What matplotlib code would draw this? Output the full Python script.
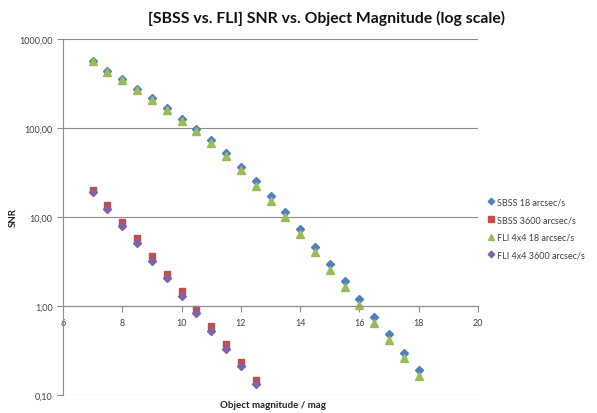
import matplotlib.pyplot as plt
import numpy as np
from matplotlib.ticker import FixedLocator, FuncFormatter, NullLocator

plt.rcParams['font.family'] = ['Lato', 'DejaVu Sans']

# Data
mag_long = [7, 7.5, 8, 8.5, 9, 9.5, 10, 10.5, 11, 11.5, 12, 12.5,
            13, 13.5, 14, 14.5, 15, 15.5, 16, 16.5, 17, 17.5, 18]
sbss_18 = [570, 440, 356, 274, 215, 166, 126, 97.5, 73, 52, 36.7, 25.2,
           17.1, 11.3, 7.3, 4.6, 2.97, 1.90, 1.20, 0.76, 0.48, 0.30, 0.19]
fli_18 = [560, 430, 345, 266, 208, 160, 120, 92, 68, 48, 33.5, 22.5,
          15.0, 9.9, 6.4, 4.0, 2.55, 1.62, 1.02, 0.65, 0.41, 0.26, 0.165]

mag_short = [7, 7.5, 8, 8.5, 9, 9.5, 10, 10.5, 11, 11.5, 12, 12.5]
sbss_3600 = [20.3, 13.6, 8.85, 5.75, 3.6, 2.27, 1.46, 0.925, 0.59, 0.37, 0.233, 0.148]
fli_3600 = [18.9, 12.3, 8.0, 5.1, 3.2, 2.05, 1.31, 0.83, 0.52, 0.33, 0.21, 0.133]

x_ticks = [6, 8, 10, 12, 14, 16, 18, 20]
y_ticks = [0.1, 1, 10, 100, 1000]

fig = plt.figure(figsize=(5.97, 4.14), dpi=100)
ax = fig.add_axes([63 / 597, 1 - 396 / 414, (478 - 63) / 597, (396 - 40) / 414])

ax.plot(mag_long, sbss_18, 'D', color='#4F81BD', markersize=3.9, label='SBSS 18 arcsec/s')
ax.plot(mag_short, sbss_3600, 's', color='#C0504D', markersize=5.0, label='SBSS 3600 arcsec/s')
ax.plot(mag_long, fli_18, '^', color='#9BBB59', markersize=5.4, label='FLI 4x4 18 arcsec/s')
ax.plot(mag_short, fli_3600, 'D', color='#8064A2', markersize=3.9, label='FLI 4x4 3600 arcsec/s')

ax.set_yscale('log')
ax.set_xlim(6, 20)
ax.set_ylim(0.1, 1000)

ax.xaxis.set_major_locator(FixedLocator(x_ticks))
ax.yaxis.set_major_locator(FixedLocator(y_ticks))
ax.yaxis.set_minor_locator(NullLocator())
ax.yaxis.set_major_formatter(FuncFormatter(lambda v, p: f'{v:.2f}'.replace('.', ',')))

ax.grid(axis='y', color='#8c8c8c', linewidth=0.8)
ax.set_axisbelow(True)

for side in ['top', 'right']:
    ax.spines[side].set_visible(False)
ax.spines['bottom'].set_position(('data', 1))
ax.spines['bottom'].set_color('#8c8c8c')
ax.spines['left'].set_color('#8c8c8c')
ax.tick_params(axis='both', colors='#8c8c8c', labelcolor='#404040', labelsize=6.5,
               length=4, width=0.8)
ax.tick_params(axis='x', pad=5)

fig.text(273 / 597, 1 - 406 / 414, 'Object magnitude / mag',
         ha='center', va='center', fontsize=7, fontweight='bold', color='#222222')
fig.text(13 / 597, 1 - 218 / 414, 'SNR', rotation=90,
         ha='center', va='center', fontsize=7, fontweight='bold', color='#222222')

fig.text(327 / 597, 1 - 18 / 414, '[SBSS vs. FLI] SNR vs. Object Magnitude (log scale)',
         ha='center', va='center', fontsize=11.3, fontweight='bold', color='#111111')

ax.legend(loc='upper left', bbox_to_anchor=(484 / 597, 1 - 195 / 414),
          bbox_transform=fig.transFigure, frameon=False, fontsize=6.5,
          markerscale=0.85, handlelength=0.7, handletextpad=0.3, labelspacing=0.95,
          borderaxespad=0, labelcolor='#404040')

fig.savefig('out.png', dpi=100)
